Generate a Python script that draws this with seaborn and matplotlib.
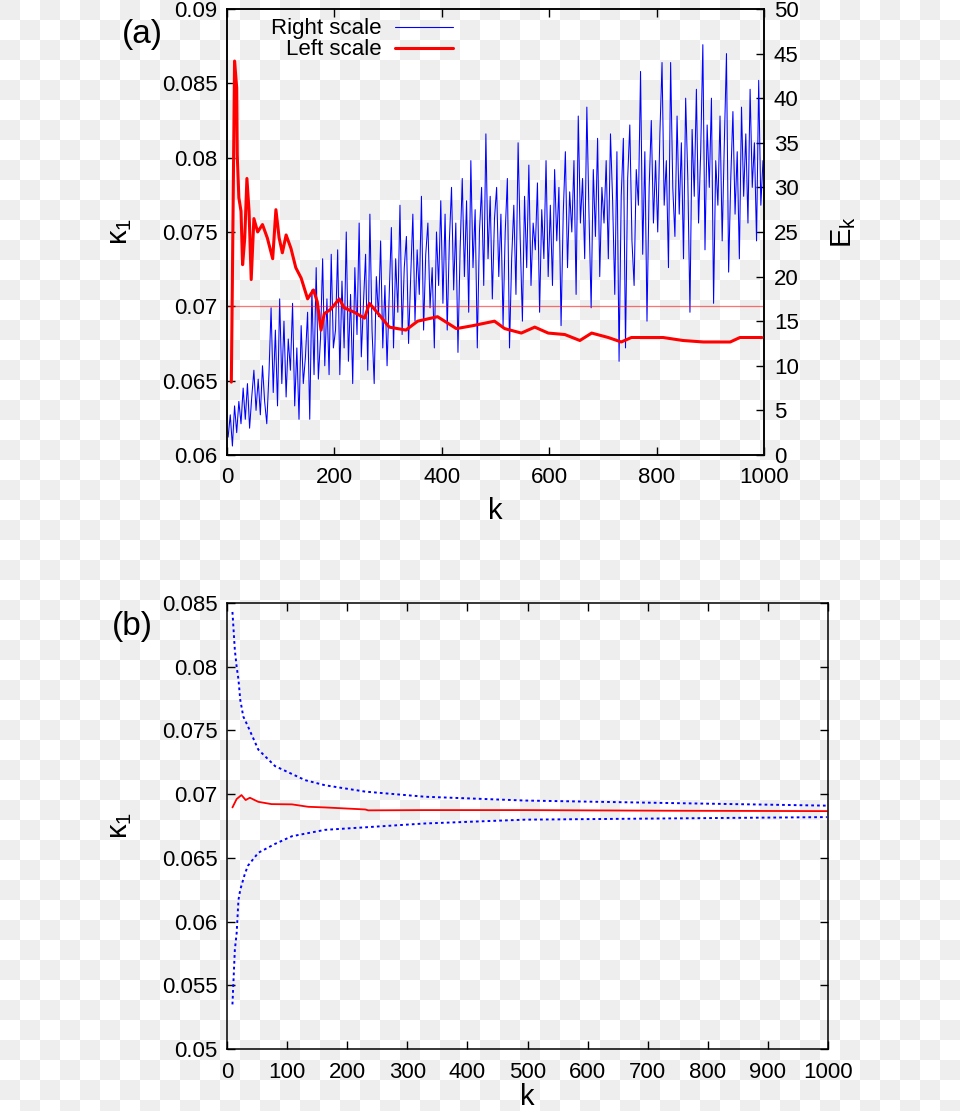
import numpy as np
import pandas as pd
import matplotlib
matplotlib.use("Agg")
import matplotlib.pyplot as plt
from matplotlib.ticker import MultipleLocator, FuncFormatter
from matplotlib.lines import Line2D
import seaborn as sns

# ---------------- data: panel (a) ----------------
# E_k (right scale), sampled every 4 steps of k (k = 2, 6, ..., 998)
k_blue = np.arange(2, 1000, 4)
E_blue = [
    # k 2-98
    2.0, 4.5, 1.0, 5.5, 2.5, 6.0, 3.5, 7.5, 4.0, 8.0, 3.0, 6.5, 9.5, 5.0, 8.5, 4.5, 10.0, 6.0, 3.5, 9.0, 16.5, 7.0, 14.0, 5.5, 17.5,
    # k 102-198
    8.0, 15.0, 6.5, 13.0, 9.5, 17.0, 5.5, 12.0, 4.0, 14.5, 8.0, 11.0, 16.0, 4.0, 18.5, 9.0, 21.0, 8.5, 13.0, 22.0, 10.0, 17.5, 9.0, 22.5, 12.0,
    # k 202-298
    14.0, 23.0, 9.0, 19.5, 12.0, 25.0, 10.5, 18.0, 8.0, 21.0, 13.5, 26.0, 11.0, 17.0, 22.5, 9.5, 27.0, 14.0, 8.0, 20.0, 15.5, 24.0, 12.0, 19.0, 10.0,
    # k 302-398
    18.0, 25.5, 12.0, 22.0, 16.0, 28.0, 13.5, 21.0, 24.5, 12.5, 20.0, 27.0, 15.0, 23.0, 18.0, 29.0, 14.0, 22.5, 26.0, 16.5, 21.0, 12.0, 25.0, 19.0, 28.5,
    # k 402-498
    17.0, 27.0, 14.0, 24.0, 30.0, 18.5, 26.0, 11.5, 23.0, 31.0, 20.0, 28.5, 16.0, 33.0, 21.0, 27.5, 12.0, 25.0, 30.0, 19.0, 36.0, 22.0, 29.0, 17.5, 26.5,
    # k 502-598
    30.0, 20.0, 27.0, 14.5, 25.0, 31.0, 12.0, 22.0, 28.0, 18.0, 35.0, 24.0, 15.0, 29.0, 21.0, 32.5, 19.0, 26.0, 23.0, 30.5, 16.0, 27.5, 22.0, 33.0, 20.0,
    # k 602-698
    28.0, 19.0, 32.0, 24.0, 30.0, 14.5, 27.0, 34.0, 21.0, 29.5, 25.0, 33.0, 18.0, 38.0, 26.0, 31.0, 22.0, 39.0, 27.0, 16.5, 32.0, 24.5, 35.5, 20.0, 30.0,
    # k 702-798
    26.0, 33.0, 22.0, 36.0, 28.5, 18.0, 34.0, 10.5, 29.0, 35.5, 12.0, 31.0, 37.0, 24.0, 19.0, 32.0, 28.0, 43.0, 22.5, 34.0, 15.0, 30.0, 37.5, 26.0, 33.0,
    # k 802-898
    25.0, 36.0, 44.0, 28.0, 33.0, 21.0, 44.0, 30.0, 24.5, 38.0, 27.0, 35.0, 22.0, 40.0, 31.0, 16.0, 36.5, 29.0, 41.0, 26.0, 34.0, 46.0, 23.0, 37.0, 30.0,
    # k 902-998
    40.0, 17.0, 33.0, 28.0, 38.0, 24.0, 35.0, 45.0, 20.5, 31.0, 38.5, 27.0, 34.0, 22.0, 39.0, 29.0, 36.0, 26.0, 41.0, 30.0, 35.0, 24.0, 42.0, 28.0, 33.0,
]

# kappa_1 (left scale)
k_red = [8, 10, 14, 18, 19, 22, 26, 29, 33, 37, 41, 45, 50, 57, 66, 75, 85, 91, 97, 103,
         110, 119, 128, 138, 150, 161, 168, 175, 181, 193, 209, 218, 237, 256, 265, 284,
         302, 333, 355, 392, 427, 458, 498, 517, 548, 573, 598, 629, 657, 679, 710, 734,
         753, 812, 849, 887, 937, 955, 996]
kappa_red = [0.0649, 0.0719, 0.0865, 0.0847, 0.0802, 0.0773, 0.0764, 0.0728, 0.0746, 0.0786,
             0.0764, 0.0718, 0.0759, 0.0750, 0.0755, 0.0746, 0.0732, 0.0765, 0.0746, 0.0736,
             0.0748, 0.0739, 0.0726, 0.0719, 0.0705, 0.0711, 0.0703, 0.0684, 0.0695, 0.0698,
             0.0705, 0.0699, 0.0696, 0.0692, 0.0702, 0.0694, 0.0686, 0.0684, 0.0690, 0.0693,
             0.0685, 0.0687, 0.0690, 0.0685, 0.0682, 0.0686, 0.0682, 0.0681, 0.0677, 0.0682,
             0.0679, 0.0676, 0.0679, 0.0679, 0.0677, 0.0676, 0.0676, 0.0679, 0.0679]
kappa_ref = 0.070

# ---------------- data: panel (b) ----------------
k_b_red = [9, 16, 24, 31, 38, 52, 74, 108, 135, 163, 230, 235, 329, 496, 742, 998]
kappa_b_red = [0.06896, 0.06962, 0.06993, 0.06954, 0.06972, 0.0694, 0.06922, 0.0692,
               0.06901, 0.06896, 0.0688, 0.06873, 0.06875, 0.06875, 0.0687, 0.06867]
k_b_upper = [9, 13, 16, 19, 22, 27, 35, 52, 80, 130, 163, 230, 329, 496, 742, 998]
kappa_b_upper = [0.0843, 0.0813, 0.0800, 0.0790, 0.0774, 0.0761, 0.0753, 0.0735,
                 0.0722, 0.0711, 0.0707, 0.0702, 0.0698, 0.0695, 0.0693, 0.0691]
k_b_lower = [9, 13, 16, 19, 22, 30, 35, 52, 80, 108, 163, 230, 329, 496, 742, 998]
kappa_b_lower = [0.0535, 0.0578, 0.0591, 0.0617, 0.0625, 0.0638, 0.0644, 0.0654,
                 0.0661, 0.0667, 0.0672, 0.0674, 0.0677, 0.0680, 0.0681, 0.0682]

legend_labels = ["Right scale", "Left scale"]

# ---------------- style ----------------
sns.set_theme(style="ticks")
plt.rcParams.update({
    "font.family": ["Liberation Sans", "DejaVu Sans"],
    "mathtext.fontset": "custom",
    "mathtext.rm": "Liberation Sans",
    "mathtext.it": "Liberation Sans",
    "mathtext.bf": "Liberation Sans:bold",
    "axes.linewidth": 1.1,
    "axes.edgecolor": "black",
    "xtick.color": "black",
    "ytick.color": "black",
    "text.color": "black",
    "axes.labelcolor": "black",
})

TICK_FS = 16
LABEL_FS = 21

fig = plt.figure(figsize=(9.6, 11.11), dpi=100)
fig.patch.set_facecolor("white")

# transparency checkerboard of the reference background
H, W = 1111, 960
rows = np.arange(H) // 20
cols = np.arange(W) // 20
board = np.where((rows[:, None] + cols[None, :]) % 2 == 0, 0.93, 1.0)
fig.figimage(board, xo=0, yo=0, origin="upper", cmap="gray", vmin=0, vmax=1, zorder=-10)

fmt = FuncFormatter(lambda v, p: "%g" % round(v, 6))

def style_ticks(ax, **kw):
    ax.tick_params(direction="in", length=6, width=1.0, labelsize=TICK_FS, **kw)

# ---------------- panel (a) ----------------
axA = fig.add_axes([0.2365, 0.5905, 0.5594, 0.4014])
axA2 = axA.twinx()
axA2.set_zorder(1)
axA.set_zorder(2)
axA.patch.set_visible(False)
axA2.patch.set_visible(False)

sns.lineplot(x=k_blue, y=E_blue, ax=axA2, color="#0000ff", linewidth=0.75, legend=False)
axA.axhline(kappa_ref, color="red", linewidth=0.9, alpha=0.55, zorder=1)
sns.lineplot(x=k_red, y=kappa_red, ax=axA, color="#ff0000", linewidth=2.2, legend=False, zorder=3)

axA.set_xlim(0, 1000)
axA.set_ylim(0.06, 0.09)
axA2.set_ylim(0, 50)
axA.xaxis.set_major_locator(MultipleLocator(200))
axA.yaxis.set_major_locator(MultipleLocator(0.005))
axA.yaxis.set_major_formatter(fmt)
axA2.yaxis.set_major_locator(MultipleLocator(5))
style_ticks(axA, top=True, right=False)
axA.tick_params(axis="x", pad=9)
axA.tick_params(axis="y", pad=7)
style_ticks(axA2, right=True, left=False, pad=7)
for ax in (axA, axA2):
    for s in ax.spines.values():
        s.set_visible(True)
        s.set_linewidth(1.1)

axA.set_xlabel("k", fontsize=LABEL_FS, labelpad=6)
axA.set_ylabel(r"$\kappa_1$", fontsize=LABEL_FS, labelpad=20)
axA2.set_ylabel(r"$E_k$", fontsize=LABEL_FS, labelpad=22)

handles = [Line2D([], [], color="#0000ff", linewidth=0.8),
           Line2D([], [], color="#ff0000", linewidth=2.2)]
axA.legend(handles, legend_labels, loc="upper right", bbox_to_anchor=(0.441, 1.004),
           frameon=False, markerfirst=False, handlelength=2.6, handletextpad=0.6,
           borderpad=0.0, labelspacing=0.0, fontsize=TICK_FS)

fig.text(142 / 960, 1 - 34 / 1111, "(a)", fontsize=24, ha="center", va="center")

# ---------------- panel (b) ----------------
axB = fig.add_axes([0.2365, 0.0558, 0.626, 0.4014])
axB.set_zorder(2)
axB.patch.set_visible(False)
dots = (0, (1.4, 1.6))
sns.lineplot(x=k_b_upper, y=kappa_b_upper, ax=axB, color="#0000ff", linewidth=1.4,
             linestyle=dots, legend=False)
sns.lineplot(x=k_b_lower, y=kappa_b_lower, ax=axB, color="#0000ff", linewidth=1.4,
             linestyle=dots, legend=False)
sns.lineplot(x=k_b_red, y=kappa_b_red, ax=axB, color="#ff0000", linewidth=1.3, legend=False)

axB.set_xlim(0, 1000)
axB.set_ylim(0.05, 0.085)
axB.xaxis.set_major_locator(MultipleLocator(100))
axB.yaxis.set_major_locator(MultipleLocator(0.005))
axB.yaxis.set_major_formatter(fmt)
style_ticks(axB, top=True, right=True)
axB.tick_params(axis="x", pad=9)
axB.tick_params(axis="y", pad=7)
for s in axB.spines.values():
    s.set_visible(True)
    s.set_linewidth(1.1)
axB.set_xlabel("k", fontsize=LABEL_FS, labelpad=0)
axB.set_ylabel(r"$\kappa_1$", fontsize=LABEL_FS, labelpad=20)

fig.text(132 / 960, 1 - 627 / 1111, "(b)", fontsize=24, ha="center", va="center")

fig.savefig("out.png", dpi=100, facecolor=fig.get_facecolor())
